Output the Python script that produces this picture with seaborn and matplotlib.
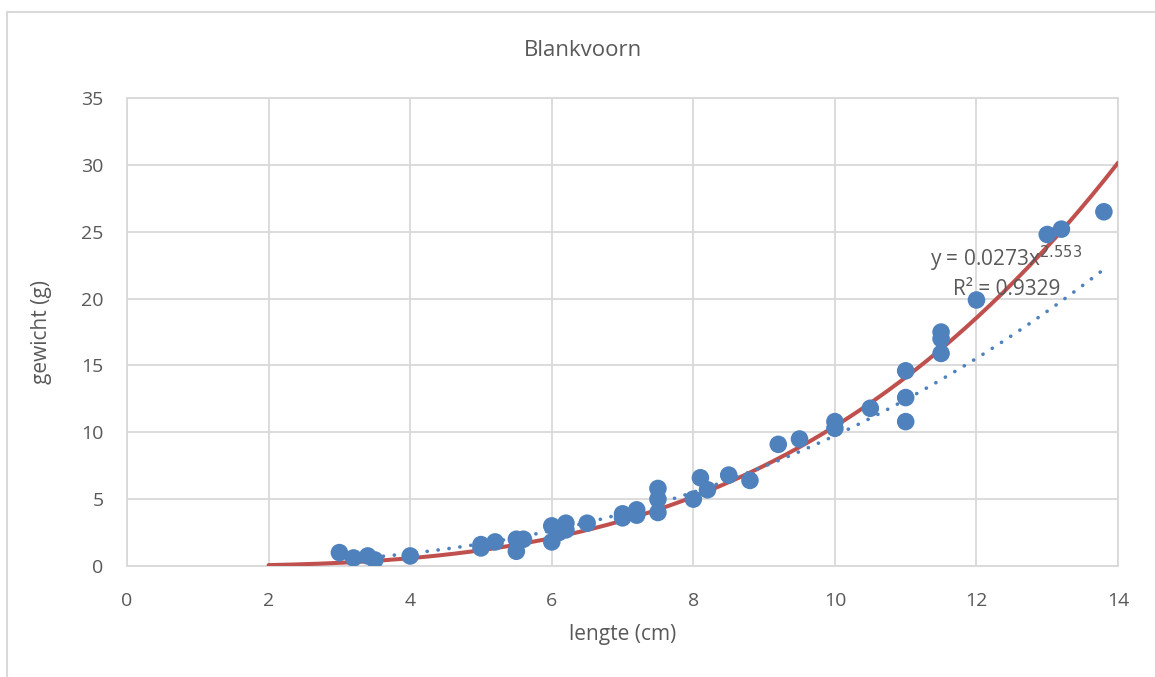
import numpy as np
import pandas as pd
import matplotlib
matplotlib.use("Agg")
import matplotlib.pyplot as plt
from matplotlib.patches import Rectangle
import seaborn as sns

# Data
lengte = [3.0, 3.2, 3.4, 3.5, 4.0, 5.0, 5.0, 5.2, 5.5, 5.5, 5.6,
          6.0, 6.0, 6.1, 6.2, 6.2, 6.5, 7.0, 7.0, 7.2, 7.2,
          7.5, 7.5, 7.5, 8.0, 8.1, 8.2, 8.5, 8.8, 9.2, 9.5,
          10.0, 10.0, 10.5, 11.0, 11.0, 11.0, 11.5, 11.5, 11.5,
          12.0, 13.0, 13.2, 13.8]
gewicht = [1.0, 0.6, 0.75, 0.45, 0.75, 1.35, 1.6, 1.8, 2.0, 1.1, 2.0,
           3.0, 1.8, 2.5, 3.2, 2.7, 3.2, 3.9, 3.6, 4.2, 3.8,
           5.8, 5.0, 4.0, 5.0, 6.6, 5.7, 6.8, 6.4, 9.1, 9.5,
           10.8, 10.3, 11.8, 14.6, 12.6, 10.8, 17.5, 17.0, 15.9,
           19.9, 24.8, 25.2, 26.5]

# Power trendline (Excel label)
trend_a = 0.0273
trend_b = 2.553
trend_label = "y = 0.0273x$^{2.553}$\nR² = 0.9329"

# Reference (red) length-weight curve
ref_a = 0.0074
ref_b = 3.15
ref_xmin, ref_xmax = 2.0, 14.0

x_ticks = [0, 2, 4, 6, 8, 10, 12, 14]
y_ticks = [0, 5, 10, 15, 20, 25, 30, 35]

df = pd.DataFrame({"lengte": lengte, "gewicht": gewicht})

sns.set_theme(style="white")
plt.rcParams['font.family'] = ['Open Sans', 'DejaVu Sans']

fig = plt.figure(figsize=(11.55, 6.77), dpi=100)
ax = fig.add_axes([0.110, 0.164, 0.858, 0.691])

grid_c = "#d9d9d9"
text_c = "#595959"

# Red reference curve
xr = np.linspace(ref_xmin, ref_xmax, 200)
ref_df = pd.DataFrame({"x": xr, "y": ref_a * xr ** ref_b})
sns.lineplot(data=ref_df, x="x", y="y", ax=ax, color="#c0504d", lw=2.9, zorder=3)

# Scatter
sns.scatterplot(data=df, x="lengte", y="gewicht", ax=ax, color="#4f81bd",
                s=160, edgecolor="none", alpha=1, zorder=4)

# Dotted power trendline
xt = np.linspace(min(lengte), max(lengte), 200)
tr_df = pd.DataFrame({"x": xt, "y": trend_a * xt ** trend_b})
ax.plot(tr_df["x"], tr_df["y"], color="#4f81bd", lw=2.6,
        linestyle=(0, (0.05, 3.0)), dash_capstyle="round", zorder=5)

ax.set_xlim(0, 14)
ax.set_ylim(0, 35)
ax.set_xticks(x_ticks)
ax.set_yticks(y_ticks)
ax.grid(True, color=grid_c, lw=1.3)
ax.set_axisbelow(True)
for s in ax.spines.values():
    s.set_color(grid_c)
    s.set_linewidth(1.3)
ax.tick_params(axis="both", length=0, labelsize=14, colors=text_c)
ax.tick_params(axis="x", pad=19)
ax.tick_params(axis="y", pad=17)

ax.set_xlabel("lengte (cm)", fontsize=15, color=text_c, labelpad=10)
ax.set_ylabel("gewicht (g)", fontsize=15, color=text_c, labelpad=21)
fig.text(583 / 1155, 1 - 50 / 677, "Blankvoorn", ha="center", va="center",
         fontsize=16, color=text_c)

ax.text(12.42, 22.0, trend_label, ha="center", va="center", fontsize=15,
        color=text_c, linespacing=1.3, zorder=6)

# Outer chart frame
fig.patches.append(Rectangle((7 / 1155, -0.1), 1.2, 1 - 12 / 677 + 0.1,
                             transform=fig.transFigure, fill=False,
                             edgecolor=grid_c, lw=1.5))

fig.savefig("out.png", dpi=100)
